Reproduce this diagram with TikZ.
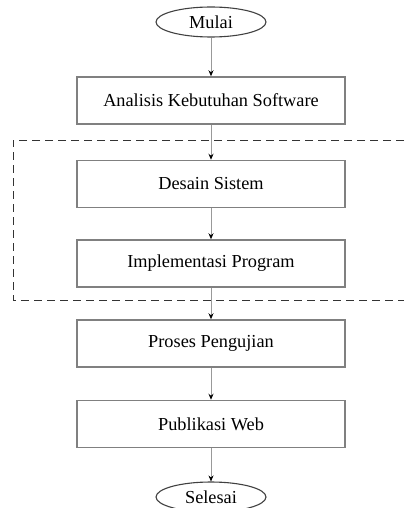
\documentclass[tikz,border=0pt]{standalone}
\usepackage{fontspec}
\setmainfont{Liberation Serif}
\usetikzlibrary{shapes.geometric,arrows.meta}
\newlength{\du}
\setlength{\du}{1pt}
\tikzset{
  prosesbox/.style={draw=gray,line width=1.5\du,minimum width=268\du,minimum height=47\du,
    inner sep=0pt,font=\fontsize{18.3}{20}\selectfont},
  terminal/.style={ellipse,draw=black!75,line width=1.1\du,minimum width=110\du,minimum height=30\du,
    inner sep=0pt,font=\fontsize{18.3}{20}\selectfont},
  alur/.style={draw=gray!80,line width=0.8\du,-{Stealth[length=6pt,width=5pt,color=black]}},
  batas/.style={draw=black!80,dash pattern=on 8\du off 5\du,line width=1\du}
}

\begin{document}
\begin{tikzpicture}[yscale=-1]
\useasboundingbox (0\du,0\du) rectangle (404\du,508\du);
% setfont left to latex
\node[terminal] (mulai) at (211\du,22\du) {Mulai};
\node[prosesbox] (analisis) at (211\du,100.5\du) {Analisis Kebutuhan Software};
\node[prosesbox] (desain) at (211\du,184\du) {Desain Sistem};
\node[prosesbox] (implementasi) at (211\du,263.5\du) {Implementasi Program};
\node[prosesbox] (pengujian) at (211\du,343.5\du) {Proses Pengujian};
\node[prosesbox] (publikasi) at (211\du,424\du) {Publikasi Web};
\node[terminal] (selesai) at (211\du,497\du) {Selesai};
% batas tahap pengembangan
\draw[batas] (404\du,140\du)--(13\du,140\du)--(13\du,300\du)--(404\du,300\du);
% alur
\draw[alur] (mulai)--(analisis);
\draw[alur] (analisis)--(desain);
\draw[alur] (desain)--(implementasi);
\draw[alur] (implementasi)--(pengujian);
\draw[alur] (pengujian)--(publikasi);
\draw[alur] (publikasi)--(selesai);
\end{tikzpicture}
\end{document}
